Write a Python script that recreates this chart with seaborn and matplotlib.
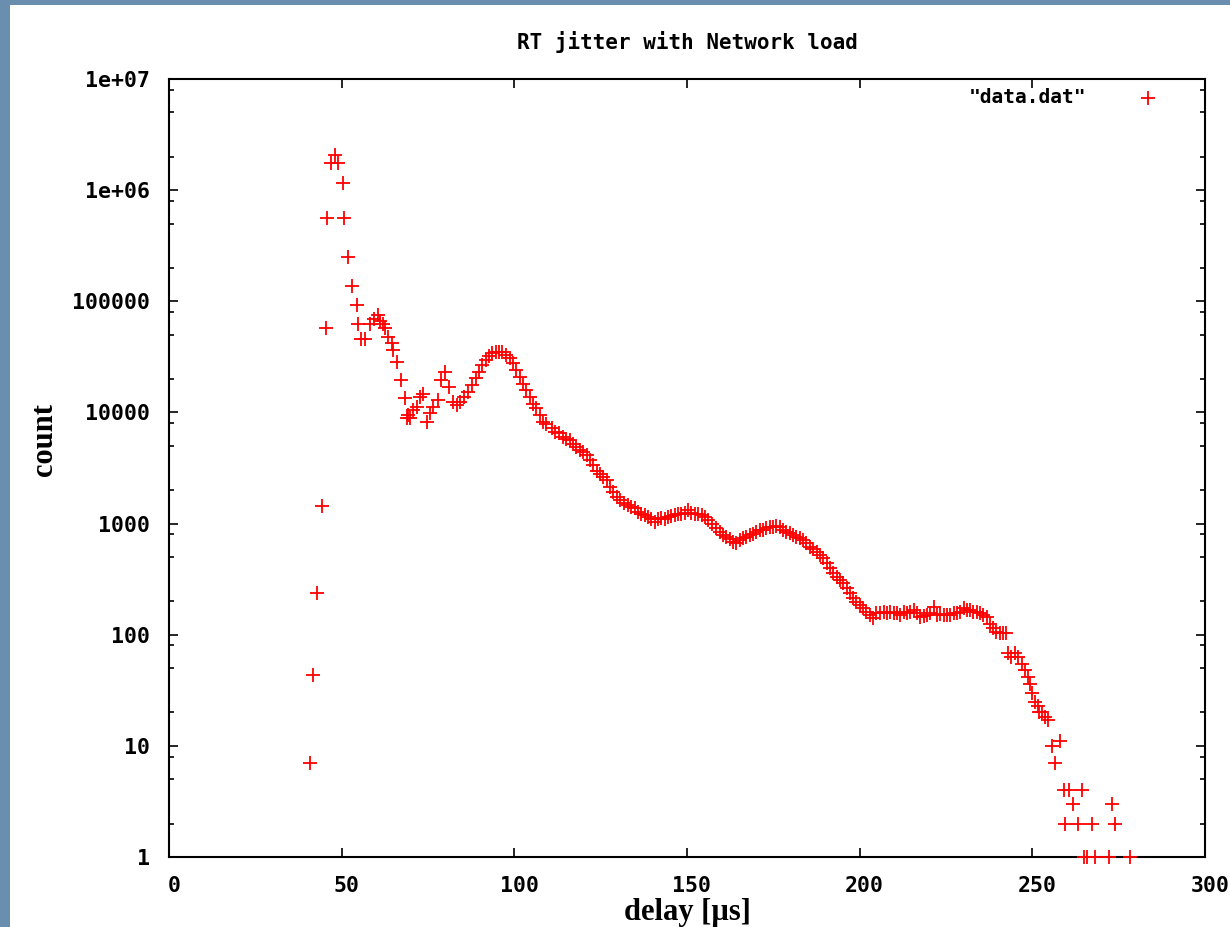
import matplotlib
matplotlib.use("Agg")
import matplotlib.pyplot as plt
import matplotlib.ticker as mticker
from matplotlib.patches import Rectangle
from matplotlib.transforms import ScaledTranslation
import pandas as pd
import seaborn as sns

# values (delay in us, histogram count)
delay_us = [
    40.8, 41.8, 43.0, 44.2, 45.35, 45.8, 46.9, 48.0, 48.9, 50.3,
    50.7, 51.9, 53.1, 54.3, 54.6, 55.6, 56.7, 58.2, 59.4, 60.4,
    61.1, 62.0, 62.5, 63.5, 64.5, 64.9, 65.9, 67.1, 68.3, 68.8,
    69.3, 69.8, 70.7, 71.7, 72.6, 73.6, 74.6, 75.5, 76.5, 77.8,
    78.9, 79.9, 81.0, 82.3, 83.3, 84.2, 85.5, 86.6, 87.6, 88.8,
    89.7, 90.7, 91.7, 92.6, 93.6, 94.6, 95.5, 96.5, 97.5, 98.7,
    99.7, 100.6, 101.6, 102.5, 103.5, 104.5, 105.4, 106.4, 107.4, 108.3,
    109.3, 110.8, 111.7, 113.0, 114.1, 115.1, 116.1, 117.0, 118.0, 119.0,
    119.9, 120.9, 121.9, 122.8, 123.8, 124.7, 125.7, 126.7, 127.6, 128.6,
    129.6, 130.5, 131.7, 132.9, 133.9, 134.9, 135.8, 136.8, 137.8, 138.7,
    139.7, 140.7, 141.6, 142.6, 143.6, 144.5, 145.5, 146.5, 147.4, 148.4,
    149.3, 150.3, 151.3, 152.2, 153.2, 154.2, 155.1, 156.1, 157.1, 158.5,
    159.5, 160.4, 161.4, 162.4, 163.3, 164.3, 165.3, 166.2, 167.2, 168.2,
    169.1, 170.1, 171.1, 172.0, 173.0, 174.0, 174.9, 175.9, 176.9, 177.8,
    178.8, 179.8, 180.7, 181.7, 182.6, 183.6, 184.6, 185.5, 186.5, 187.5,
    188.4, 189.4, 190.4, 191.3, 192.3, 193.3, 194.2, 195.2, 196.2, 197.1,
    198.1, 199.0, 200.0, 201.0, 201.9, 202.9, 203.9, 204.8, 206.0, 207.0,
    207.9, 208.9, 209.8, 210.8, 211.8, 212.7, 213.7, 214.7, 215.6, 216.6,
    217.5, 218.5, 219.5, 220.4, 221.4, 222.4, 223.3, 224.3, 225.2, 226.2,
    227.2, 228.1, 229.1, 230.1, 231.0, 232.0, 232.9, 233.9, 234.9, 235.8,
    236.8, 237.6, 238.6, 239.6, 240.5, 241.5, 242.3, 242.9, 243.9, 245.0,
    245.9, 246.9, 247.8, 248.8, 249.3, 249.8, 250.7, 251.7, 251.8, 252.7,
    253.7, 254.6, 255.6, 256.7, 257.9, 259.3, 259.5, 260.7, 261.9, 263.2,
    264.3, 265.0, 265.8, 267.2, 268.2, 272.2, 273.2, 273.8, 278.3,
]
counts = [
    7, 43, 237, 1440, 57000, 560000, 1750000, 2050000, 1750000, 1150000,
    560000, 250000, 138000, 93000, 63000, 46000, 46000, 63000, 70000, 75000,
    67000, 63000, 57000, 48000, 42000, 36700, 28600, 19600, 13400, 8900,
    9500, 8900, 10500, 11200, 13800, 14800, 8200, 9800, 11200, 12900,
    19500, 23300, 17000, 12500, 11700, 12500, 13800, 15400, 17700, 20300,
    23300, 26700, 29500, 32000, 34000, 35000, 35000, 35000, 33000, 30600,
    27600, 24000, 21000, 18200, 15900, 13800, 12000, 10900, 9500, 8200,
    7900, 7200, 6700, 6500, 6000, 5800, 5600, 5250, 4900, 4600,
    4400, 4100, 3700, 3370, 3000, 2800, 2600, 2460, 2140, 1940,
    1740, 1620, 1520, 1470, 1420, 1370, 1280, 1230, 1190, 1150,
    1110, 1040, 1110, 1130, 1110, 1150, 1160, 1190, 1210, 1230,
    1250, 1320, 1250, 1230, 1210, 1190, 1150, 1070, 1000, 906,
    844, 789, 760, 720, 686, 662, 710, 738, 760, 789,
    805, 844, 872, 884, 906, 925, 937, 950, 925, 884,
    844, 815, 789, 760, 738, 710, 662, 618, 585, 557,
    521, 486, 439, 395, 356, 331, 310, 290, 261, 235,
    212, 198, 185, 173, 161, 150, 140, 156, 156, 161,
    156, 161, 158, 156, 150, 161, 158, 161, 167, 156,
    145, 147, 150, 156, 179, 150, 153, 150, 150, 150,
    156, 156, 161, 173, 167, 167, 161, 161, 156, 150,
    145, 126, 114, 106, 103, 103, 104, 68, 63, 68,
    63, 55, 48, 42, 36, 30, 25, 23, 20, 20,
    18, 17, 10, 7, 11, 4, 2, 4, 3, 2,
    4, 1, 1, 2, 1, 1, 3, 2, 1,
]

x_ticks = [0, 50, 100, 150, 200, 250, 300]
y_ticks = [1, 10, 100, 1000, 10000, 100000, 1000000, 10000000]
y_tick_labels = ["1", "10", "100", "1000", "10000", "100000", "1e+06", "1e+07"]

df = pd.DataFrame({"delay": delay_us, "count": counts})

sns.set_style("ticks")
plt.rcParams["font.family"] = ["DejaVu Sans Mono"]
plt.rcParams["text.color"] = "black"
plt.rcParams["axes.labelcolor"] = "black"

fig = plt.figure(figsize=(12.3, 9.27), dpi=100)
fig.patch.set_facecolor("#6a8fae")
fig.patches.append(Rectangle((10 / 1230, 0), 1, 1 - 5 / 927, transform=fig.transFigure,
                             facecolor="white", edgecolor="none", zorder=-10))
ax = fig.add_axes([169 / 1230, 70 / 927, 1036 / 1230, 778 / 927])
ax.set_zorder(5)

sns.scatterplot(data=df, x="delay", y="count", marker="+", color="red", s=90,
                linewidth=1.3, clip_on=False, label='"data.dat"', ax=ax, zorder=3)

ax.set_yscale("log")
ax.set_xlim(0, 300)
ax.set_ylim(1, 1e7)
ax.set_xticks(x_ticks)
ax.set_yticks(y_ticks)
ax.set_yticklabels(y_tick_labels)
ax.yaxis.set_minor_locator(mticker.LogLocator(base=10, subs=[2, 5, 8], numticks=20))
ax.yaxis.set_minor_formatter(mticker.NullFormatter())
ax.xaxis.set_minor_locator(mticker.NullLocator())

ax.tick_params(which="both", direction="in", top=True, right=True, width=1.2,
               color="black", labelcolor="black")
ax.tick_params(which="major", length=6.5, pad=14, labelsize=15.5)
ax.tick_params(which="minor", length=3.7)
shift = ScaledTranslation(5 / 100, 0, fig.dpi_scale_trans)
for lab in ax.get_xticklabels():
    lab.set_fontweight("bold")
    lab.set_transform(lab.get_transform() + shift)
for lab in ax.get_yticklabels():
    lab.set_fontweight("bold")
for sp in ax.spines.values():
    sp.set_linewidth(1.5)
    sp.set_color("black")

ax.set_title("RT jitter with Network load", y=1.0476, va="center", pad=0,
             fontsize=15, fontweight="bold", color="black")
ax.set_xlabel("delay [µs]", fontfamily="Liberation Serif", fontweight="bold",
              fontsize=22, color="black")
ax.xaxis.set_label_coords(0.5, -0.0707)
ax.xaxis.label.set_va("center")
ax.set_ylabel("count", fontfamily="Liberation Serif", fontweight="bold",
              fontsize=22, color="black")
ax.yaxis.set_label_coords(-0.1197, 0.536)
ax.yaxis.label.set_va("center")

leg = ax.legend(loc="center right", bbox_to_anchor=(0.9546, 0.9756), frameon=False,
                markerfirst=False, handlelength=1.0, handletextpad=2.7, borderpad=0,
                borderaxespad=0,
                prop={"family": "DejaVu Sans Mono", "weight": "bold", "size": 14})
for t in leg.get_texts():
    t.set_color("black")

fig.savefig("out.png", dpi=100, facecolor=fig.get_facecolor())
